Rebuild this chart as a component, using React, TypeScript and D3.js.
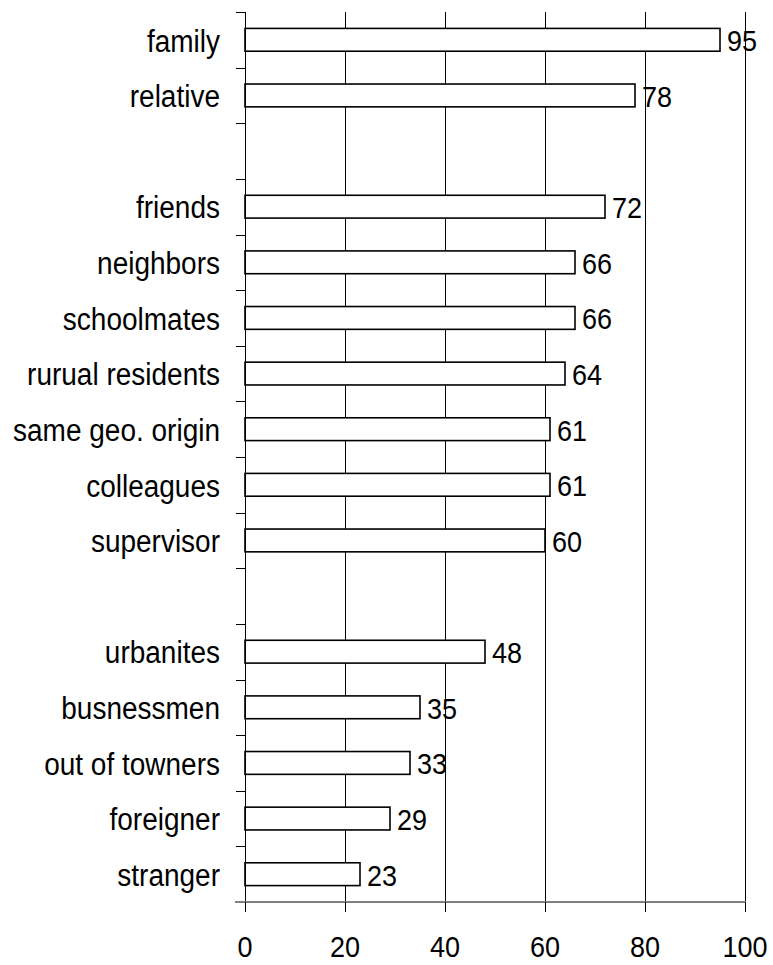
import React from "react";
import * as d3 from "d3";

const categories = [
  "family", "relative", "", "friends", "neighbors", "schoolmates", "rurual residents",
  "same geo. origin", "colleagues", "supervisor", "", "urbanites", "busnessmen",
  "out of towners", "foreigner", "stranger",
];
const values: (number | null)[] = [
  95, 78, null, 72, 66, 66, 64, 61, 61, 60, null, 48, 35, 33, 29, 23,
];
const xTicks = [0, 20, 40, 60, 80, 100];

const W = 773;
const H = 965;
const left = 245;
const right = 745;
const top = 12;
const bottom = 902;
const FONT = "'Liberation Sans', Arial, sans-serif";

function VText(props: { x: number; y: number; anchor?: string; size: number; children: any }) {
  const { x, y, anchor, size, children } = props;
  return (
    <text
      transform={`translate(${x},${y}) scale(1,1.1)`}
      textAnchor={anchor || "start"}
      dy="0.35em"
      fontFamily={FONT}
      fontSize={size}
      fill="#000"
    >
      {children}
    </text>
  );
}

export default function App() {
  const x = d3.scaleLinear().domain([0, 100]).range([left, right]);
  const slots = categories.map((_, i) => String(i));
  const y = d3.scaleBand<string>().domain(slots).range([top, bottom]).paddingInner(0).paddingOuter(0);
  const bw = y.bandwidth();
  const barH = bw * 0.41;
  const boundaries = d3.range(categories.length + 1).map((i) => Math.round(top + i * bw) + 0.5);
  const px = (t: number) => Math.round(x(t)) + 0.5;

  return (
    <svg width={W} height={H} style={{ position: "absolute", left: 0, top: 0, background: "#fff" }}>
      {xTicks.filter((t) => t > 0).map((t) => (
        <line key={"g" + t} x1={px(t)} x2={px(t)} y1={top} y2={bottom} stroke="#000" strokeWidth={1} shapeRendering="crispEdges" />
      ))}
      {values.map((v, i) =>
        v == null ? null : (
          <rect
            key={"b" + i}
            x={x(0)}
            y={(y(String(i)) as number) + bw / 2 - barH / 2}
            width={x(v) - x(0)}
            height={barH}
            fill="#fff"
            stroke="#000"
            strokeWidth={1.6}
          />
        )
      )}
      {values.map((v, i) =>
        v == null ? null : (
          <VText key={"v" + i} x={x(v) + 7} y={(y(String(i)) as number) + bw / 2 + 1} size={27}>
            {v}
          </VText>
        )
      )}
      {categories.map((c, i) =>
        c ? (
          <VText key={"c" + i} x={220} y={(y(String(i)) as number) + bw / 2 + 1} anchor="end" size={28}>
            {c}
          </VText>
        ) : null
      )}
      <line x1={px(0)} x2={px(0)} y1={top} y2={bottom} stroke="#000" strokeWidth={1} shapeRendering="crispEdges" />
      {boundaries.map((b, i) => (
        <line key={"t" + i} x1={236} x2={left} y1={b} y2={b} stroke="#000" strokeWidth={1} shapeRendering="crispEdges" />
      ))}
      <line x1={235} x2={right + 1} y1={bottom} y2={bottom} stroke="#808080" strokeWidth={2} shapeRendering="crispEdges" />
      {xTicks.map((t) => (
        <g key={"x" + t}>
          <line x1={px(t)} x2={px(t)} y1={bottom} y2={bottom + 10} stroke="#000" strokeWidth={1} shapeRendering="crispEdges" />
          <VText x={x(t)} y={947} anchor="middle" size={27}>
            {t}
          </VText>
        </g>
      ))}
    </svg>
  );
}
